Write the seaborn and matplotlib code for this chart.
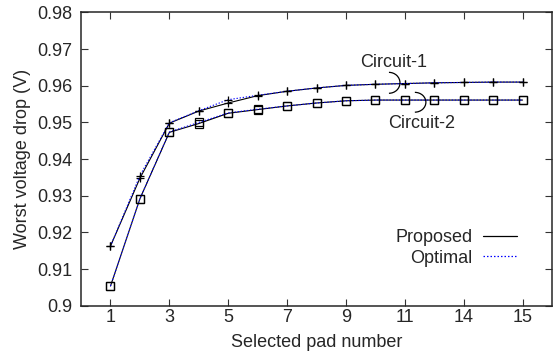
import pandas as pd
import matplotlib
matplotlib.use("Agg")
import matplotlib.pyplot as plt
import seaborn as sns
from matplotlib.lines import Line2D
from matplotlib.patches import Arc

# pad index along x (ticks are labelled with the real pad numbers)
pads = list(range(1, 16))
tick_pos = [1, 3, 5, 7, 9, 11, 13, 15]
tick_labels = ["1", "3", "5", "7", "9", "11", "14", "15"]
y_ticks = [0.90, 0.91, 0.92, 0.93, 0.94, 0.95, 0.96, 0.97, 0.98]

c1_proposed = [0.9163, 0.9348, 0.9498, 0.9531, 0.9553, 0.9573, 0.9585, 0.9594,
               0.9601, 0.9604, 0.9606, 0.9608, 0.9609, 0.9610, 0.9610]
c1_optimal = [0.9163, 0.9355, 0.9499, 0.9532, 0.9562, 0.9574, 0.9585, 0.9594,
              0.9601, 0.9604, 0.9606, 0.9608, 0.9609, 0.9610, 0.9610]
c2_proposed = [0.9054, 0.9292, 0.9473, 0.9497, 0.9525, 0.9535, 0.9545, 0.9553,
               0.9559, 0.9561, 0.9561, 0.9561, 0.9561, 0.9561, 0.9561]
c2_optimal = [0.9054, 0.9292, 0.9474, 0.9500, 0.9526, 0.9536, 0.9545, 0.9553,
              0.9559, 0.9561, 0.9561, 0.9561, 0.9561, 0.9561, 0.9561]

sns.set_style("ticks")
plt.rcParams["font.family"] = ["Liberation Sans", "DejaVu Sans"]
fs = 13

fig = plt.figure(figsize=(5.59, 3.54), dpi=100)
ax = fig.add_axes([0.145, 0.136, 0.8425, 0.829])

dotted = (0, (1.2, 1.6))
series = [
    (c1_proposed, "+", "-", "black"),
    (c2_proposed, "s", "-", "black"),
    (c1_optimal, "+", dotted, "#0000ff"),
    (c2_optimal, "s", dotted, "#0000ff"),
]
for vals, mk, ls, col in series:
    sns.lineplot(x=pads, y=vals, ax=ax, color=col, linestyle=ls, linewidth=0.8,
                 marker=mk, markersize=6 if mk == "+" else 5.3,
                 markerfacecolor="none", markeredgecolor="black",
                 markeredgewidth=0.9)

ax.set_xlim(0, 16)
ax.set_ylim(0.9, 0.98)
ax.set_xticks(tick_pos)
ax.set_xticklabels(tick_labels)
ax.set_yticks(y_ticks)
ax.yaxis.set_major_formatter(matplotlib.ticker.FormatStrFormatter("%g"))
ax.tick_params(direction="in", length=5, width=0.8, labelsize=fs,
               top=True, right=True, color="#333333")
ax.tick_params(axis="x", pad=2)
ax.tick_params(axis="y", pad=6)
for s in ax.spines.values():
    s.set_linewidth(1.1)

ax.set_xlabel("Selected pad number", fontsize=fs, labelpad=6)
ax.set_ylabel("Worst voltage drop (V)", fontsize=fs, labelpad=5)

# circuit annotations
ax.add_patch(Arc((10.46, 0.9608), 0.75, 0.0057, theta1=-90, theta2=90,
                 color="black", lw=0.9))
ax.add_patch(Arc((11.34, 0.9555), 0.75, 0.0054, theta1=-90, theta2=90,
                 color="black", lw=0.9))
ax.text(10.63, 0.9664, "Circuit-1", fontsize=fs, ha="center", va="center")
ax.text(11.58, 0.9498, "Circuit-2", fontsize=fs, ha="center", va="center")

handles = [Line2D([], [], color="black", lw=0.9),
           Line2D([], [], color="#0000ff", lw=0.9, linestyle=dotted)]
ax.legend(handles, ["Proposed", "Optimal"], loc="upper right",
          bbox_to_anchor=(517 / 559, 1 - 229 / 354),
          bbox_transform=fig.transFigure, frameon=False, markerfirst=False,
          fontsize=fs, handlelength=1.9, handletextpad=0.55,
          labelspacing=0.2, borderpad=0, borderaxespad=0)

fig.savefig("out.png", dpi=100)
